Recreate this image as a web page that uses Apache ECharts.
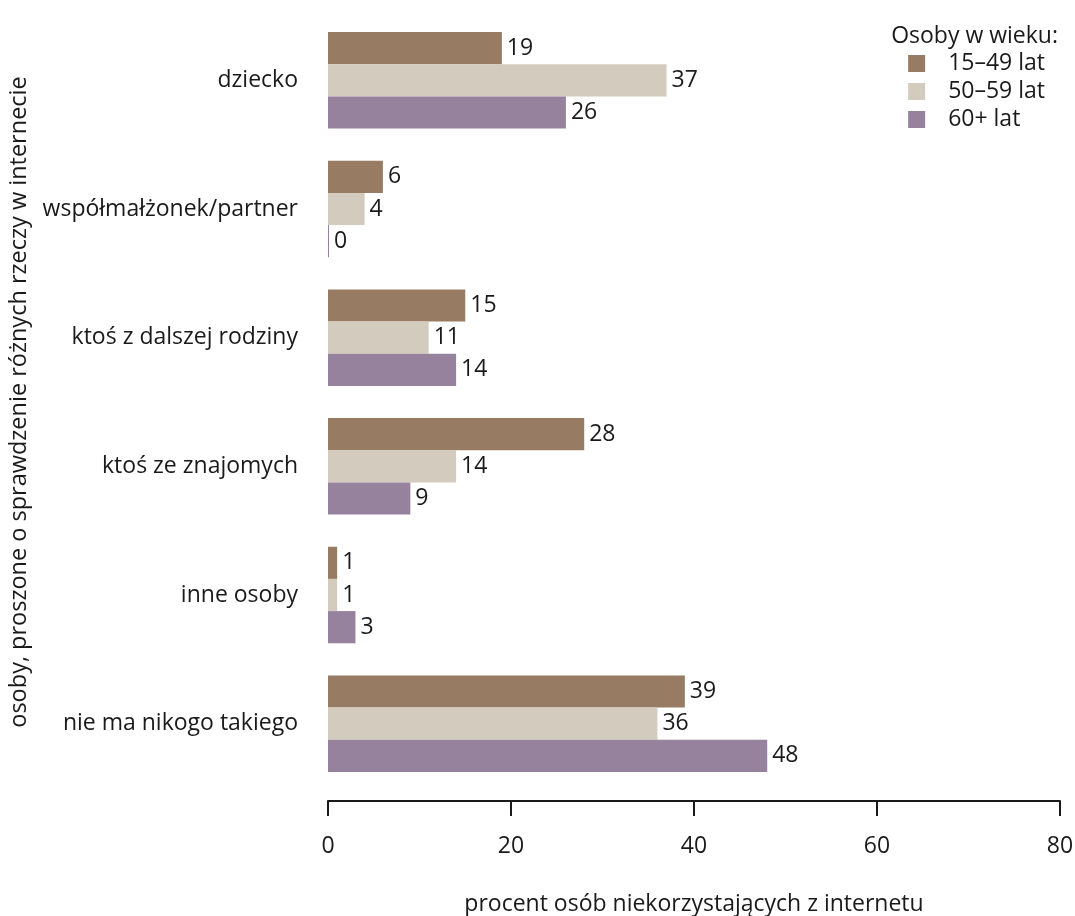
<!DOCTYPE html>
<html><head><meta charset="utf-8">
<script src="https://cdn.jsdelivr.net/npm/echarts@6/dist/echarts.min.js"></script>
<style>html,body{margin:0;padding:0;background:#fff}#c{width:1075px;height:916px}</style>
</head><body><div id="c"></div>
<script>
const categories = ['dziecko', 'współmałżonek/partner', 'ktoś z dalszej rodziny', 'ktoś ze znajomych', 'inne osoby', 'nie ma nikogo takiego'];
const seriesNames = ['15–49 lat', '50–59 lat', '60+ lat'];
const age15_49 = [19, 6, 15, 28, 1, 39];
const age50_59 = [37, 4, 11, 14, 1, 36];
const age60plus = [26, 0, 14, 9, 3, 48];
const xTicks = [0, 20, 40, 60, 80];
const colors = ['#977B62', '#D3CBBE', '#97829E'];
const FONT = '"Open Sans", sans-serif';
const FS = 23;
const TXT = '#1a1a1a';

const chart = echarts.init(document.getElementById('c'));
const mk = (name, data, color) => ({
  name, type: 'bar', data, barGap: '0%', barCategoryGap: '25%',
  itemStyle: { color },
  barMinHeight: 1,
  label: { show: true, position: 'right', distance: 5, color: TXT, fontSize: FS, fontFamily: FONT },
  emphasis: { disabled: true }
});
chart.setOption({
  animation: false,
  textStyle: { fontFamily: FONT, color: TXT },
  grid: { left: 328, right: 15, top: 16, bottom: 128, containLabel: false, outerBoundsMode: 'none' },
  title: { text: 'Osoby w wieku:', right: 17, top: 22, padding: 0, textStyle: { fontSize: FS, lineHeight: 28, fontWeight: 'normal', color: TXT, fontFamily: FONT } },
  legend: {
    orient: 'vertical', right: 30, top: 52, padding: 0, itemWidth: 17, itemHeight: 17, itemGap: 5,
    icon: 'rect', textStyle: { fontSize: FS, lineHeight: 20, color: TXT, fontFamily: FONT, padding: [0, 0, 0, 18] },
    data: seriesNames
  },
  xAxis: {
    type: 'value', min: xTicks[0], max: xTicks[xTicks.length - 1], interval: 20,
    offset: 13,
    axisLine: { show: true, lineStyle: { color: TXT, width: 2 } },
    axisTick: { show: true, length: 15, lineStyle: { color: TXT, width: 2 } },
    splitLine: { show: false },
    axisLabel: { margin: 34, fontSize: FS, color: TXT, fontFamily: FONT },
    name: 'procent osób niekorzystających z internetu', nameLocation: 'middle', nameGap: 92,
    nameTextStyle: { fontSize: FS, color: TXT, fontFamily: FONT }
  },
  yAxis: {
    type: 'category', data: categories, inverse: true,
    axisLine: { show: false }, axisTick: { show: false },
    axisLabel: { margin: 30, fontSize: FS, color: TXT, fontFamily: FONT },
    name: 'osoby, proszone o sprawdzenie różnych rzeczy w internecie',
    nameLocation: 'middle', nameGap: 297, nameRotate: 90,
    nameTextStyle: { fontSize: 23.5, color: TXT, fontFamily: FONT }
  },
  series: [mk(seriesNames[0], age15_49, colors[0]), mk(seriesNames[1], age50_59, colors[1]), mk(seriesNames[2], age60plus, colors[2])]
});
</script></body></html>
